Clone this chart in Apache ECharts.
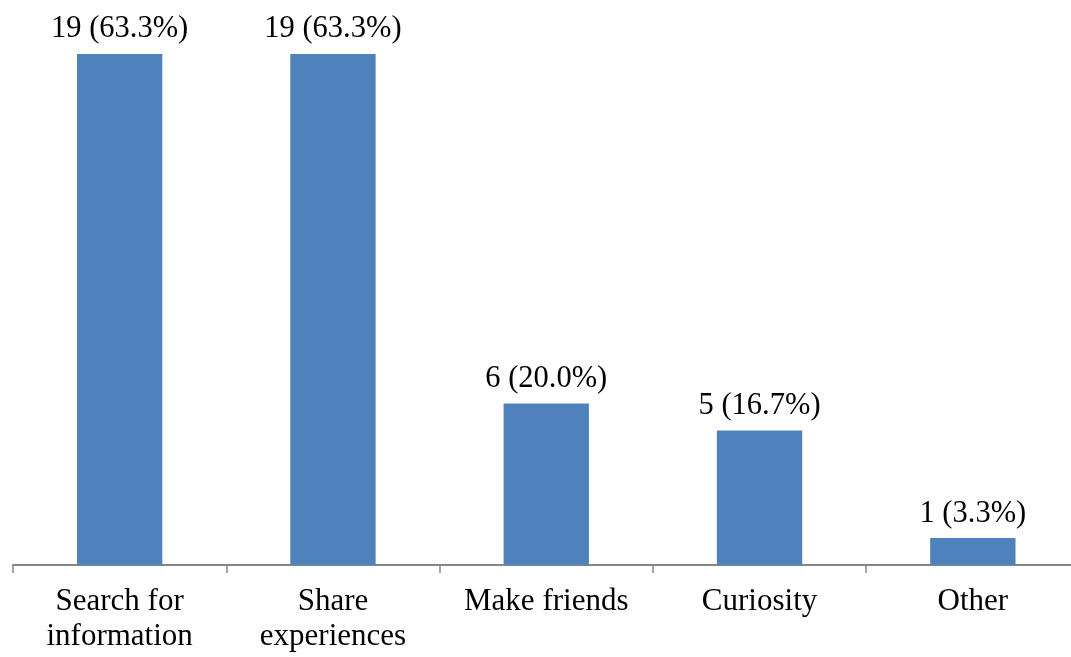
<!DOCTYPE html>
<html>
<head>
<meta charset="utf-8">
<script src="https://cdn.jsdelivr.net/npm/echarts@6/dist/echarts.min.js"></script>
<style>
  html, body { margin: 0; padding: 0; background: #fff; }
  #chart { width: 1071px; height: 657px; }
</style>
</head>
<body>
<div id="chart"></div>
<script>
// Reasons for joining, with respondent counts and shares
const categories = ['Search for\ninformation', 'Share\nexperiences', 'Make friends', 'Curiosity', 'Other'];
const counts = [19, 19, 6, 5, 1];
const shares = ['63.3%', '63.3%', '20.0%', '16.7%', '3.3%'];

const chart = echarts.init(document.getElementById('chart'), null, { renderer: 'canvas' });
const font = '"Liberation Serif", "Times New Roman", serif';

chart.setOption({
  animation: false,
  grid: {
    left: 13, width: 1066.5, top: 27, bottom: 92,
    containLabel: false, outerBoundsMode: 'none'
  },
  xAxis: {
    type: 'category',
    data: categories,
    axisLine: { lineStyle: { color: '#868686', width: 2 } },
    axisTick: { show: true, length: 8, lineStyle: { color: '#868686', width: 1.5 } },
    axisLabel: {
      color: '#000', fontFamily: font, fontSize: 31, lineHeight: 35, margin: 19, interval: 0
    }
  },
  yAxis: { type: 'value', min: 0, max: 20, show: false, splitLine: { show: false } },
  series: [{
    type: 'bar',
    data: counts,
    barWidth: '40%',
    itemStyle: { color: '#4F81BD' },
    label: {
      show: true,
      position: 'top',
      distance: 9,
      color: '#000',
      fontFamily: font,
      fontSize: 30.5,
      formatter: p => p.value + ' (' + shares[p.dataIndex] + ')'
    }
  }]
});
</script>
</body>
</html>
